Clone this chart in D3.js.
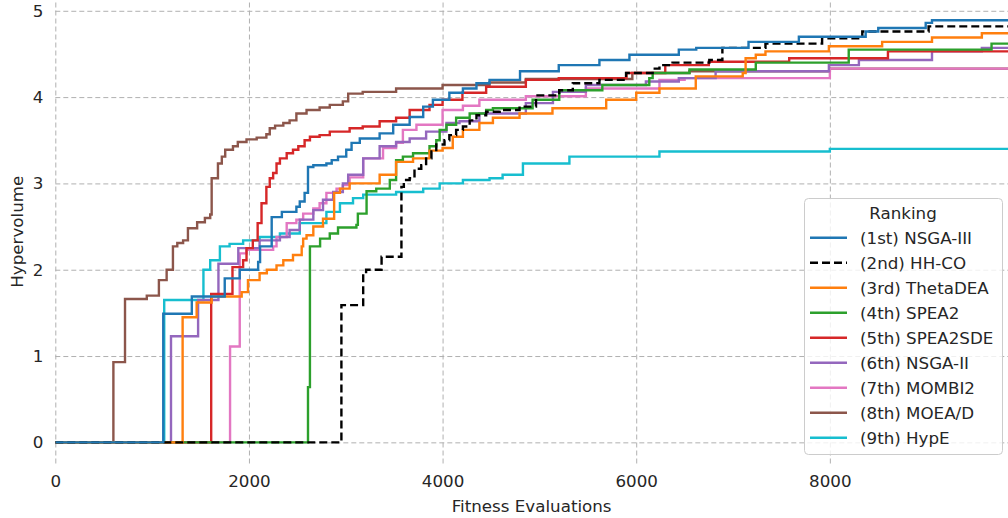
<!DOCTYPE html>
<html>
<head>
<meta charset="utf-8">
<script src="https://cdn.jsdelivr.net/npm/d3@7"></script>
<style>
  html, body { margin: 0; padding: 0; background: #fff; }
  svg { display: block; font-family: "DejaVu Sans", sans-serif; }
</style>
</head>
<body>
<svg id="chart"></svg>
<script>
// step series: [fitness evaluations, hypervolume]
var nsga3 = [[0,0],[1115,1.49],[1410,1.69],[1750,1.90],[1905,2.0],[2095,2.09],[2115,2.27],[2235,2.61],[2340,2.67],[2490,2.73],[2525,2.79],[2575,2.89],[2610,3.19],[2665,3.21],[2800,3.23],[2855,3.27],[2920,3.31],[3005,3.39],[3060,3.47],[3145,3.52],[3350,3.58],[3490,3.68],[3660,3.77],[3800,3.89],[3900,3.97],[4070,4.05],[4210,4.10],[4350,4.16],[4485,4.20],[4800,4.30],[5200,4.37],[5620,4.43],[5930,4.49],[6440,4.55],[6620,4.57],[7160,4.64],[7680,4.70],[8370,4.76],[8500,4.80],[8990,4.86],[9055,4.89],[9900,4.92]];
var hhco = [[0,0],[2955,1.59],[3180,1.96],[3210,2.0],[3370,2.15],[3575,2.96],[3600,3.04],[3660,3.06],[3710,3.17],[3780,3.21],[3830,3.29],[3885,3.37],[3935,3.45],[4020,3.50],[4070,3.56],[4140,3.62],[4210,3.66],[4280,3.73],[4350,3.79],[4450,3.83],[4590,3.85],[4795,3.89],[4965,4.02],[5205,4.08],[5345,4.16],[5620,4.20],[5895,4.28],[6170,4.33],[6240,4.37],[6375,4.40],[6755,4.43],[6890,4.57],[7335,4.62],[7920,4.68],[8335,4.76],[9020,4.82],[9900,4.84]];
var thetadea = [[0,0],[1315,1.45],[1460,1.62],[1615,1.69],[1925,1.74],[1990,1.88],[2110,1.96],[2185,2.0],[2285,2.05],[2355,2.11],[2455,2.17],[2545,2.27],[2560,2.36],[2595,2.40],[2665,2.50],[2765,2.59],[2880,2.89],[2940,2.94],[3040,3.0],[3350,3.10],[3520,3.25],[3695,3.29],[3865,3.38],[4000,3.41],[4105,3.54],[4210,3.62],[4380,3.70],[4520,3.76],[4795,3.81],[5135,3.87],[5690,3.97],[6000,4.05],[6240,4.10],[6615,4.24],[7100,4.28],[7130,4.45],[7235,4.49],[7335,4.53],[7990,4.59],[8540,4.64],[9055,4.69],[9570,4.74],[9900,4.75]];
var spea2 = [[0,0],[2610,0.64],[2630,2.27],[2735,2.36],[2835,2.42],[2920,2.49],[3110,2.52],[3125,2.65],[3215,2.91],[3315,2.94],[3455,3.04],[3520,3.27],[3590,3.31],[3695,3.35],[3865,3.43],[3935,3.50],[3970,3.62],[4040,3.68],[4140,3.76],[4280,3.81],[4450,3.85],[4520,3.87],[4930,3.97],[5205,4.08],[5650,4.14],[6135,4.22],[6170,4.28],[6550,4.32],[7235,4.40],[8195,4.55],[9670,4.62],[9900,4.65]];
var spea2sde = [[0,0],[1610,1.72],[1830,2.03],[1940,2.11],[1975,2.25],[2040,2.34],[2090,2.54],[2130,2.77],[2180,2.96],[2215,3.06],[2250,3.12],[2285,3.23],[2320,3.29],[2390,3.35],[2455,3.39],[2510,3.43],[2575,3.50],[2630,3.54],[2730,3.56],[2835,3.60],[3040,3.64],[3175,3.66],[3350,3.72],[3520,3.76],[3660,3.85],[3865,3.91],[4000,3.97],[4205,4.05],[4450,4.12],[4860,4.20],[5200,4.22],[5900,4.28],[6300,4.37],[6750,4.41],[7580,4.45],[8600,4.53],[9900,4.59]];
var nsga2 = [[0,0],[1195,1.23],[1475,1.65],[1685,2.07],[1890,2.25],[2110,2.34],[2320,2.38],[2420,2.46],[2525,2.58],[2665,2.69],[2765,2.81],[2870,2.90],[2970,3.0],[3025,3.10],[3180,3.29],[3350,3.43],[3520,3.48],[3660,3.52],[3830,3.60],[4040,3.70],[4175,3.72],[4380,3.81],[4860,3.93],[5140,4.06],[5480,4.14],[6100,4.18],[6440,4.22],[6820,4.30],[7990,4.37],[8300,4.43],[9055,4.53],[9570,4.57],[9900,4.58]];
var mombi2 = [[0,0],[1805,1.11],[1905,2.19],[1975,2.23],[2250,2.27],[2285,2.38],[2390,2.54],[2490,2.58],[2560,2.65],[2665,2.71],[2730,2.77],[2800,2.89],[2905,2.94],[2970,2.98],[3040,3.07],[3180,3.29],[3385,3.41],[3520,3.47],[3590,3.62],[3730,3.68],[4000,3.85],[4210,3.90],[4380,3.97],[4860,4.01],[5480,4.10],[6240,4.20],[6500,4.22],[8000,4.33],[9900,4.41]];
var moead = [[0,0],[600,0.93],[720,1.66],[945,1.70],[1070,1.88],[1150,2.0],[1215,2.27],[1260,2.31],[1320,2.34],[1370,2.48],[1465,2.55],[1545,2.60],[1600,2.64],[1615,3.06],[1680,3.23],[1720,3.31],[1755,3.39],[1835,3.43],[1885,3.48],[1975,3.51],[2080,3.53],[2180,3.57],[2215,3.64],[2270,3.67],[2355,3.70],[2420,3.73],[2490,3.81],[2595,3.85],[2730,3.88],[2835,3.91],[2970,3.95],[3025,4.04],[3175,4.06],[3520,4.10],[4000,4.14],[4485,4.17],[4860,4.21],[5960,4.28],[6550,4.30],[8000,4.33],[9900,4.35]];
var hype = [[0,0],[1125,1.65],[1530,2.0],[1600,2.11],[1700,2.27],[1800,2.30],[1940,2.34],[2110,2.38],[2320,2.42],[2525,2.54],[2800,2.67],[2940,2.77],[3075,2.83],[3180,2.87],[3520,2.90],[3800,2.94],[3970,3.0],[4210,3.04],[4485,3.06],[4620,3.10],[4830,3.23],[5310,3.31],[6240,3.37],[8000,3.40],[9900,3.43]];

var seriesNames = ["(1st) NSGA-III", "(2nd) HH-CO", "(3rd) ThetaDEA", "(4th) SPEA2", "(5th) SPEA2SDE", "(6th) NSGA-II", "(7th) MOMBI2", "(8th) MOEA/D", "(9th) HypE"];
var seriesData = [nsga3, hhco, thetadea, spea2, spea2sde, nsga2, mombi2, moead, hype];
var seriesColors = ["#1f77b4", "#000000", "#ff7f0e", "#2ca02c", "#d62728", "#9467bd", "#e377c2", "#8c564b", "#17becf"];
var xTicks = [0, 2000, 4000, 6000, 8000];
var yTicks = [0, 1, 2, 3, 4, 5];

(function() {
    var width = 1008, height = 518;
    var plotLeft = 55.3, plotRight = 1008, plotTop = 0, plotBottom = 463.5;
    var lw = 2.4;

    var svg = d3.select('#chart')
        .attr('width', width)
        .attr('height', height);

    var x = d3.scaleLinear().domain([0, 9840]).range([plotLeft, plotRight]);
    var y = d3.scaleLinear().domain([-0.245, 5.125]).range([plotBottom, plotTop]);

    svg.append('clipPath').attr('id', 'plotclip')
        .append('rect')
        .attr('x', plotLeft).attr('y', plotTop)
        .attr('width', plotRight - plotLeft).attr('height', plotBottom - plotTop);

    // grid
    var xAxis = d3.axisBottom(x).tickValues(xTicks).tickSize(-(plotBottom - plotTop)).tickPadding(10).tickFormat(d3.format('d'));
    var yAxis = d3.axisLeft(y).tickValues(yTicks).tickSize(-(plotRight - plotLeft)).tickPadding(12).tickFormat(d3.format('d'));

    var gx = svg.append('g')
        .attr('transform', 'translate(0,' + plotBottom + ')')
        .call(xAxis);
    var gy = svg.append('g')
        .attr('transform', 'translate(' + plotLeft + ',0)')
        .call(yAxis);

    [gx, gy].forEach(function(g) {
        g.select('.domain').remove();
        g.selectAll('.tick line')
            .attr('stroke', '#b0b0b0')
            .attr('stroke-width', 1)
            .attr('stroke-dasharray', '5,3');
        g.selectAll('.tick text')
            .attr('fill', '#262626')
            .style('font-size', '16.7px')
            .style('font-family', '"DejaVu Sans", sans-serif');
    });
    gx.selectAll('.tick text').attr('dy', '0.71em').attr('y', 12);

    // lines
    var line = d3.line()
        .curve(d3.curveStepAfter)
        .x(function(d) { return x(d[0]); })
        .y(function(d) { return y(d[1]); });

    var drawOrder = [8, 7, 6, 5, 4, 3, 2, 1, 0];
    var plot = svg.append('g').attr('clip-path', 'url(#plotclip)');
    drawOrder.forEach(function(i) {
        plot.append('path')
            .datum(seriesData[i])
            .attr('fill', 'none')
            .attr('stroke', seriesColors[i])
            .attr('stroke-width', lw)
            .attr('stroke-dasharray', i === 1 ? '8,4' : null)
            .attr('d', line);
    });

    // axis labels
    svg.append('text')
        .attr('x', (plotLeft + plotRight) / 2)
        .attr('y', 512)
        .attr('text-anchor', 'middle')
        .attr('fill', '#262626')
        .style('font-size', '16.7px')
        .text('Fitness Evaluations');

    svg.append('text')
        .attr('transform', 'translate(23,' + ((plotTop + plotBottom) / 2) + ') rotate(-90)')
        .attr('text-anchor', 'middle')
        .attr('fill', '#262626')
        .style('font-size', '16.7px')
        .text('Hypervolume');

    // legend
    var lg = svg.append('g');
    lg.append('rect')
        .attr('x', 804.5).attr('y', 198.5)
        .attr('width', 198).attr('height', 256)
        .attr('rx', 4)
        .attr('fill', '#ffffff').attr('fill-opacity', 0.8)
        .attr('stroke', '#cccccc').attr('stroke-width', 1);

    lg.append('text')
        .attr('x', 903).attr('y', 219)
        .attr('text-anchor', 'middle')
        .attr('fill', '#262626')
        .style('font-size', '16.7px')
        .text('Ranking');

    seriesNames.forEach(function(name, i) {
        var yy = 237.7 + i * 25;
        lg.append('line')
            .attr('x1', 810).attr('x2', 847)
            .attr('y1', yy).attr('y2', yy)
            .attr('stroke', seriesColors[i])
            .attr('stroke-width', lw)
            .attr('stroke-dasharray', i === 1 ? '8,4' : null);
        lg.append('text')
            .attr('x', 860).attr('y', yy)
            .attr('dy', '0.35em')
            .attr('fill', '#262626')
            .style('font-size', '16.7px')
            .text(name);
    });
})();
</script>
</body>
</html>
